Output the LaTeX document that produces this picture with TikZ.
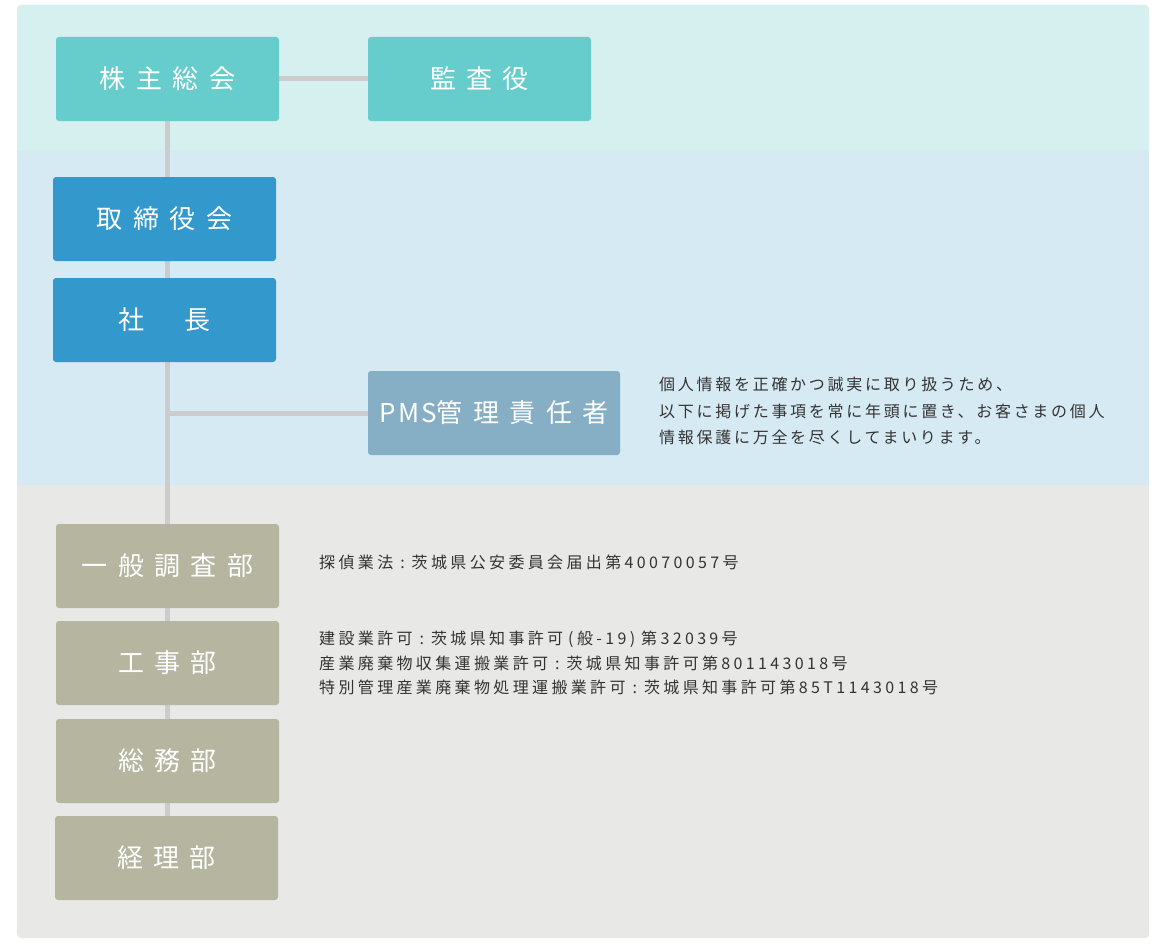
\documentclass[tikz,border=0pt]{standalone}
\usepackage{fontspec}
\setmainfont{Noto Sans CJK JP}
\usetikzlibrary{backgrounds}

\definecolor{panelTop}{HTML}{D6EFEF}
\definecolor{panelMid}{HTML}{D6EAF3}
\definecolor{panelLow}{HTML}{E8E8E6}
\definecolor{boxTeal}{HTML}{67CDCC}
\definecolor{boxBlue}{HTML}{3398CC}
\definecolor{boxPms}{HTML}{86AEC4}
\definecolor{boxDept}{HTML}{B5B5A0}
\definecolor{lineGray}{HTML}{CCCCCC}
\definecolor{noteText}{HTML}{333333}

\newcommand{\sepcolon}{\hspace{7pt}:\hspace{7pt}}

\tikzset{
  orgbox/.style={rounded corners=3pt, minimum width=223pt, minimum height=84pt,
    inner sep=0pt, text=white,
    font=\fontsize{26}{30}\selectfont\addfontfeature{LetterSpace=40}},
  note/.style={anchor=north west, inner sep=0pt, align=left, text=noteText,
    font=\fontsize{16}{26.5}\selectfont\addfontfeature{LetterSpace=17}},
  licence/.style={note, font=\fontsize{16}{24.5}\selectfont\addfontfeature{LetterSpace=21}},
  link/.style={draw=lineGray, line width=5pt},
}

\begin{document}
\begin{tikzpicture}[x=1pt,y=-1pt]
  \useasboundingbox (0,0) rectangle (1170,950);

  % boxes
  \node[orgbox, fill=boxTeal] (kabunushi) at (167.5,79) {株主総会};
  \node[orgbox, fill=boxTeal] (kansa) at (479.5,79) {監査役};
  \node[orgbox, fill=boxBlue] (torishimari) at (164.5,219) {取締役会};
  \node[orgbox, fill=boxBlue] (shacho) at (164.5,320) {社\hspace{40pt}長};
  \node[orgbox, fill=boxPms, minimum width=252pt] (pms) at (494,413)
    {{\addfontfeature{LetterSpace=8}PMS}管理責任者};
  \node[orgbox, fill=boxDept] (ippan) at (167.5,566) {一般調査部};
  \node[orgbox, fill=boxDept] (koji) at (167.5,663) {工事部};
  \node[orgbox, fill=boxDept] (somu) at (167.5,761) {総務部};
  \node[orgbox, fill=boxDept] (keiri) at (166.5,858) {経理部};

  % notes
  \node[note] (pmsnote) at (659,377) {個人情報を正確かつ誠実に取り扱うため、\\
    以下に掲げた事項を常に年頭に置き、お客さまの個人\\
    情報保護に万全を尽くしてまいります。};
  \node[licence] (ippannote) at (319,555) {探偵業法\sepcolon 茨城県公安委員会届出第40070057号};
  \node[licence] (kojinote) at (319,631)
    {建設業許可\sepcolon 茨城県知事許可\hspace{5pt}(般-19)\hspace{6pt}第32039号\\
    産業廃棄物収集運搬業許可\sepcolon 茨城県知事許可第801143018号\\
    特別管理産業廃棄物処理運搬業許可\sepcolon 茨城県知事許可第85T1143018号};

  \begin{pgfonlayer}{background}
    \fill[panelLow, rounded corners=4pt] (17,5) rectangle (1149,938);
    \fill[panelTop, rounded corners=4pt] (17,5) rectangle (1149,160);
    \fill[panelMid] (17,150) rectangle (1149,485);
    % connectors
    \draw[link] (kabunushi.south) -- (kabunushi.south |- keiri.north);
    \draw[link] (kabunushi.east) -- (kansa.west);
    \draw[link] (kabunushi.south |- pms.west) -- (pms.west);
  \end{pgfonlayer}
\end{tikzpicture}
\end{document}
